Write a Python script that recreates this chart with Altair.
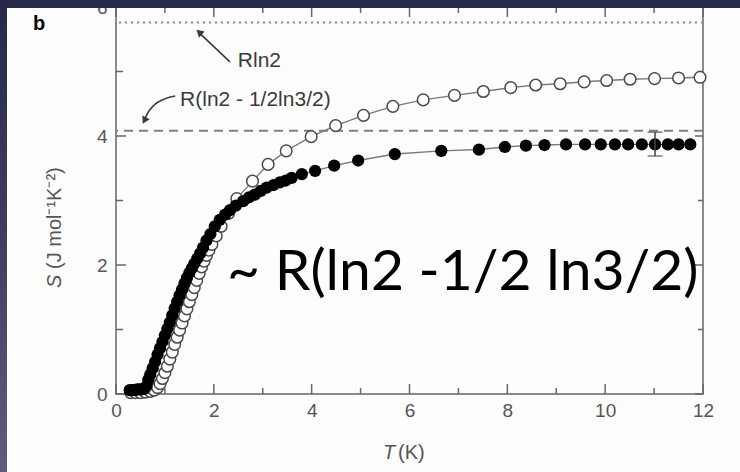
import altair as alt
import pandas as pd

# Entropy S(T) in J mol^-1 K^-2, open symbols (upper curve)
open_T = [0.30, 0.40, 0.50, 0.60, 0.70, 0.78, 0.85, 0.90, 0.95, 1.00, 1.05, 1.10,
          1.15, 1.20, 1.25, 1.30, 1.35, 1.40, 1.45, 1.50, 1.55, 1.60, 1.65, 1.70,
          1.75, 1.80, 1.85, 1.90, 1.96, 2.05, 2.15, 2.30, 2.47, 2.79, 3.11, 3.48,
          3.99, 4.49, 5.06, 5.66, 6.28, 6.92, 7.51, 8.07, 8.58, 9.08, 9.57, 10.03,
          10.51, 11.01, 11.50, 11.94]
open_S = [0.02, 0.02, 0.02, 0.03, 0.04, 0.06, 0.10, 0.16, 0.24, 0.33, 0.43, 0.54,
          0.65, 0.77, 0.88, 0.99, 1.10, 1.21, 1.32, 1.43, 1.54, 1.65, 1.76, 1.87,
          1.97, 2.06, 2.15, 2.23, 2.32, 2.45, 2.60, 2.80, 3.03, 3.30, 3.56, 3.77,
          3.99, 4.16, 4.32, 4.46, 4.56, 4.63, 4.69, 4.75, 4.79, 4.81, 4.84, 4.86,
          4.88, 4.89, 4.90, 4.91]

# Filled symbols (lower curve)
filled_T = [0.28, 0.33, 0.38, 0.43, 0.48, 0.53, 0.58, 0.62, 0.66, 0.70, 0.75, 0.80,
            0.85, 0.90, 0.95, 1.00, 1.05, 1.10, 1.15, 1.20, 1.25, 1.30, 1.35, 1.40,
            1.45, 1.50, 1.55, 1.60, 1.66, 1.72, 1.78, 1.85, 1.93, 2.02, 2.12, 2.23,
            2.33, 2.45, 2.60, 2.72, 2.84, 2.96, 3.08, 3.22, 3.35, 3.47, 3.59, 3.80,
            4.07, 4.46, 4.95, 5.70, 6.65, 7.42, 7.95, 8.38, 8.76, 9.20, 9.59, 9.91,
            10.20, 10.47, 10.75, 11.02, 11.28, 11.50, 11.74]
filled_S = [0.06, 0.06, 0.06, 0.07, 0.07, 0.07, 0.08, 0.12, 0.22, 0.30, 0.40, 0.50,
            0.61, 0.71, 0.81, 0.91, 1.01, 1.11, 1.22, 1.33, 1.43, 1.53, 1.62, 1.71,
            1.80, 1.88, 1.95, 2.02, 2.10, 2.18, 2.27, 2.38, 2.48, 2.60, 2.70, 2.78,
            2.85, 2.92, 2.99, 3.05, 3.09, 3.15, 3.20, 3.24, 3.28, 3.31, 3.35, 3.41,
            3.46, 3.54, 3.62, 3.72, 3.77, 3.79, 3.83, 3.85, 3.86, 3.87, 3.87, 3.87,
            3.87, 3.87, 3.87, 3.87, 3.87, 3.87, 3.87]

# Error bar on the filled curve
err_T = [11.02]
err_lo = [3.69]
err_hi = [4.06]

# Reference levels: R ln2 and R(ln2 - 1/2 ln 3/2)
ref_levels = [5.76, 4.08]

# Axis ticks
x_major = [0, 2, 4, 6, 8, 10, 12]
x_minor = [1, 3, 5, 7, 9, 11]
y_major = [0, 2, 4, 6]
y_minor = [1, 3, 5]

# Annotation anchors (data units)
rln2_label = {"T": [2.49], "S": [5.16], "text": ["Rln2"]}
rln2_arrow = {"T": [2.33, 1.73], "S": [5.15, 5.58]}
rln2_head = {"T": [1.70], "S": [5.61]}
red_label = {"T": [1.31], "S": [4.56], "text": ["R(ln2 - 1/2ln3/2)"]}
red_arrow = {"T": [1.21, 0.98, 0.78, 0.65, 0.60], "S": [4.62, 4.57, 4.48, 4.36, 4.28]}
red_head = {"T": [0.58], "S": [4.24]}
big_label = {"T": [2.27], "S": [1.61], "text": ["~ R(ln2 -1/2 ln3/2)"]}

W, H = 587, 387
PAD_L, PAD_T, PAD_R, PAD_B = 116, 7, 37, 78
FONT = "Liberation Sans"
AXIS_GREY = "#666666"

xs = alt.Scale(domain=[0, 12], nice=False, zero=False)
ys = alt.Scale(domain=[0, 6], nice=False, zero=False)

x_axis = alt.Axis(values=x_major, ticks=False, domain=False, grid=False,
                  labelFont=FONT, labelFontSize=19, labelColor="#555555",
                  labelPadding=7, labelFlush=False, title=None, format="d")
y_axis = alt.Axis(values=y_major, ticks=False, domain=False, grid=False,
                  labelFont=FONT, labelFontSize=19, labelColor="#555555",
                  labelPadding=9, title=None, format="d")


def X(field="T"):
    return alt.X(f"{field}:Q", scale=xs, axis=x_axis)


def Y(field="S"):
    return alt.Y(f"{field}:Q", scale=ys, axis=y_axis)


one = pd.DataFrame({"k": [0]})
open_df = pd.DataFrame({"T": open_T, "S": open_S})
filled_df = pd.DataFrame({"T": filled_T, "S": filled_S})

# Reference lines
ref_dotted = alt.Chart(pd.DataFrame({"S": [ref_levels[0]]})).mark_rule(
    color="#8a8a8a", strokeWidth=1.8, strokeDash=[2, 4]
).encode(y=Y())
ref_dashed = alt.Chart(pd.DataFrame({"S": [ref_levels[1]]})).mark_rule(
    color="#808080", strokeWidth=2, strokeDash=[9, 6]
).encode(y=Y())

# Inward tick marks on all four sides
xmaj = pd.DataFrame({"T": x_major})
xmin = pd.DataFrame({"T": x_minor})
ymaj = pd.DataFrame({"S": y_major})
ymin = pd.DataFrame({"S": y_minor})
tick_style = dict(color=AXIS_GREY, strokeWidth=1.5)
ticks = [
    alt.Chart(xmaj).mark_rule(**tick_style).encode(x=X(), y=alt.value(H), y2=alt.value(H - 10)),
    alt.Chart(xmin).mark_rule(**tick_style).encode(x=X(), y=alt.value(H), y2=alt.value(H - 6)),
    alt.Chart(xmaj).mark_rule(**tick_style).encode(x=X(), y=alt.value(0), y2=alt.value(10)),
    alt.Chart(xmin).mark_rule(**tick_style).encode(x=X(), y=alt.value(0), y2=alt.value(6)),
    alt.Chart(ymaj).mark_rule(**tick_style).encode(y=Y(), x=alt.value(0), x2=alt.value(10)),
    alt.Chart(ymin).mark_rule(**tick_style).encode(y=Y(), x=alt.value(0), x2=alt.value(7)),
    alt.Chart(ymaj).mark_rule(**tick_style).encode(y=Y(), x=alt.value(W), x2=alt.value(W - 8)),
    alt.Chart(ymin).mark_rule(**tick_style).encode(y=Y(), x=alt.value(W), x2=alt.value(W - 5)),
]

# Data curves
open_line = alt.Chart(open_df).mark_line(color="#7a7a7a", strokeWidth=1.4).encode(x=X(), y=Y())
filled_line = alt.Chart(filled_df).mark_line(color="#7a7a7a", strokeWidth=1.4).encode(x=X(), y=Y())
open_pts = alt.Chart(open_df).mark_point(
    shape="circle", filled=True, fill="white", stroke="#4a4a4a", strokeWidth=1.5,
    size=135, opacity=1
).encode(x=X(), y=Y())
filled_pts = alt.Chart(filled_df).mark_point(
    shape="circle", filled=True, color="black", size=150, opacity=1
).encode(x=X(), y=Y())

err_df = pd.DataFrame({"T": err_T, "lo": err_lo, "hi": err_hi})
err_bar = alt.Chart(err_df).mark_rule(color="#444444", strokeWidth=1.5).encode(
    x=X(), y=Y("lo"), y2="hi:Q")
err_cap_lo = alt.Chart(err_df).mark_tick(color="#444444", orient="horizontal", size=15, thickness=1.5).encode(
    x=X(), y=Y("lo"))
err_cap_hi = alt.Chart(err_df).mark_tick(color="#444444", orient="horizontal", size=15, thickness=1.5).encode(
    x=X(), y=Y("hi"))

# Annotations
ann_color = "#3a3a3a"
rln2_text = alt.Chart(pd.DataFrame(rln2_label)).mark_text(
    font=FONT, fontSize=21, color=ann_color, align="left", baseline="middle"
).encode(x=X(), y=Y(), text="text:N")
rln2_line = alt.Chart(pd.DataFrame(rln2_arrow)).mark_line(color=ann_color, strokeWidth=1.6).encode(x=X(), y=Y())
rln2_tip = alt.Chart(pd.DataFrame(rln2_head)).mark_point(
    shape="triangle-up", filled=True, color=ann_color, size=70, angle=313, opacity=1
).encode(x=X(), y=Y())
red_text = alt.Chart(pd.DataFrame(red_label)).mark_text(
    font=FONT, fontSize=21, color=ann_color, align="left", baseline="middle"
).encode(x=X(), y=Y(), text="text:N")
red_line = alt.Chart(pd.DataFrame(red_arrow)).mark_line(
    color=ann_color, strokeWidth=1.6, interpolate="monotone"
).encode(x=X(), y=Y(), order="S:Q")
red_tip = alt.Chart(pd.DataFrame(red_head)).mark_point(
    shape="triangle-up", filled=True, color=ann_color, size=70, angle=207, opacity=1
).encode(x=X(), y=Y())
big_text = alt.Chart(pd.DataFrame(big_label)).mark_text(
    font="Lato", fontSize=57, color="black", align="left", baseline="alphabetic"
).encode(x=X(), y=Y(), text="text:N")

# Axis titles and panel letter
title_style = dict(font=FONT, fontSize=20, color="#555555", baseline="middle")
y_title_s = alt.Chart(pd.DataFrame({"t": ["S"]})).mark_text(
    angle=270, align="left", fontStyle="italic", **title_style
).encode(x=alt.value(-61), y=alt.value(281), text="t:N")
y_title_rest = alt.Chart(pd.DataFrame({"t": ["(J mol⁻¹K⁻²)"]})).mark_text(
    angle=270, align="left", **title_style
).encode(x=alt.value(-61), y=alt.value(262), text="t:N")
x_title_t = alt.Chart(pd.DataFrame({"t": ["T"]})).mark_text(
    align="left", fontStyle="italic", **title_style
).encode(x=alt.value(267), y=alt.value(446), text="t:N")
x_title_rest = alt.Chart(pd.DataFrame({"t": ["(K)"]})).mark_text(
    align="left", **title_style
).encode(x=alt.value(282), y=alt.value(446), text="t:N")
panel_b = alt.Chart(pd.DataFrame({"t": ["b"]})).mark_text(
    font=FONT, fontSize=20, fontWeight="bold", color="black", align="left", baseline="alphabetic"
).encode(x=alt.value(33 - PAD_L), y=alt.value(30 - PAD_T), text="t:N")

# Slide frame bands along the top and left edges
top_band = alt.Chart(one).mark_rect(color="#29284d").encode(
    x=alt.value(-PAD_L), x2=alt.value(W + PAD_R), y=alt.value(-PAD_T), y2=alt.value(8 - PAD_T))
left_band = alt.Chart(one).mark_rect(
    color=alt.Gradient(
        gradient="linear", x1=0, x2=0, y1=0, y2=1,
        stops=[alt.GradientStop(color="#28274c", offset=0),
               alt.GradientStop(color="#3f3e62", offset=0.5),
               alt.GradientStop(color="#5e5d7c", offset=1)],
    )
).encode(x=alt.value(-PAD_L), x2=alt.value(7 - PAD_L), y=alt.value(-PAD_T), y2=alt.value(H + PAD_B))

chart = alt.layer(
    ref_dotted, ref_dashed, *ticks,
    open_line, filled_line, open_pts, filled_pts,
    err_bar, err_cap_lo, err_cap_hi,
    rln2_line, rln2_tip, rln2_text, red_line, red_tip, red_text, big_text,
    y_title_s, y_title_rest, x_title_t, x_title_rest, panel_b,
    top_band, left_band,
).properties(
    width=W, height=H,
    autosize=alt.AutoSizeParams(type="none"),
    padding={"left": PAD_L, "top": PAD_T, "right": PAD_R, "bottom": PAD_B},
    background="#fdfdfd",
).configure_view(
    stroke=AXIS_GREY, strokeWidth=1.5
)

chart.save("out.html", embed_options={"renderer": "svg", "actions": False})
